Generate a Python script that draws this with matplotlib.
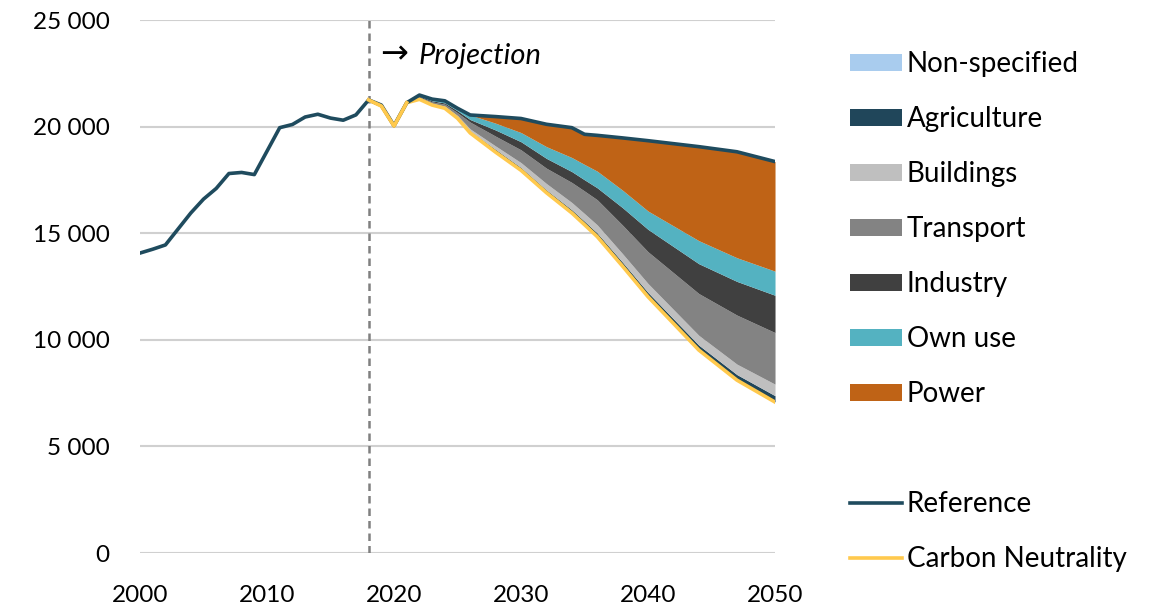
import numpy as np
import matplotlib
matplotlib.use('Agg')
import matplotlib.pyplot as plt
from matplotlib.patches import Patch
from matplotlib.lines import Line2D
from matplotlib.ticker import FuncFormatter

plt.rcParams['font.family'] = ['Lato', 'DejaVu Sans']

# historic emissions (reference line before the projection)
hist_years = [2000, 2001, 2002, 2003, 2004, 2005, 2006, 2007, 2008, 2009,
              2010, 2011, 2012, 2013, 2014, 2015, 2016, 2017]
hist_ref = [14070, 14250, 14450, 15200, 15950, 16600, 17100, 17800, 17850, 17750,
            18850, 19950, 20100, 20450, 20580, 20400, 20300, 20550]

# projection
proj_years = [2018, 2019, 2020, 2021, 2022, 2023, 2024, 2025, 2026,
              2028, 2030, 2032, 2034, 2035, 2036, 2038, 2040, 2044, 2047, 2050]
reference = [21250, 21010, 20045, 21120, 21480, 21290, 21210, 20860, 20545,
             20470, 20380, 20110, 19950, 19640, 19590, 19470, 19340, 19060, 18820, 18360]
carbon_neutrality = [21250, 20970, 20030, 21120, 21280, 21010, 20860, 20390, 19700,
                     18800, 17950, 16900, 15950, 15400, 14840, 13450, 12020, 9520, 8110, 7080]

# reductions by sector (stacked on top of the carbon neutrality line)
non_specified = [0, 0, 0, 0, 0, 0, 0, 0, 0,
                 10, 10, 10, 10, 10, 10, 10, 10, 10, 10, 10]
agriculture = [0, 10, 5, 0, 40, 50, 60, 70, 80,
               120, 120, 120, 140, 150, 160, 175, 190, 220, 250, 290]
buildings = [0, 5, 0, 0, 20, 30, 40, 60, 110,
             160, 230, 300, 340, 360, 380, 400, 420, 460, 490, 540]
transport = [0, 10, 5, 0, 50, 70, 90, 130, 320,
             460, 600, 720, 940, 1060, 1180, 1340, 1490, 1960, 2300, 2420]
industry = [0, 5, 0, 0, 40, 50, 60, 90, 120,
            290, 380, 460, 510, 525, 560, 820, 1050, 1400, 1580, 1750]
own_use = [0, 10, 5, 0, 50, 80, 100, 120, 215,
           320, 430, 550, 660, 720, 780, 820, 860, 1080, 1110, 1130]
power = [0, 0, 0, 0, 0, 0, 0, 0, 0,
         310, 660, 1050, 1400, 1415, 1680, 2455, 3300, 4410, 4970, 5140]

sector_names = ['Non-specified', 'Agriculture', 'Buildings', 'Transport',
                'Industry', 'Own use', 'Power']
sector_colors = ['#A9CCEE', '#20465A', '#BFBFBF', '#838383',
                 '#404040', '#54B2C1', '#BF6316']
sectors = [non_specified, agriculture, buildings, transport, industry, own_use, power]

ref_color = '#1F4B5E'
cn_color = '#FFC94D'

fig = plt.figure(figsize=(11.63, 6.10), dpi=100)
ax = fig.add_axes([0.1204, 0.0934, 0.546, 0.8738])

x = np.array(proj_years)
lower = np.array(carbon_neutrality, dtype=float)
for vals, col in zip(sectors, sector_colors):
    upper = lower + np.array(vals)
    ax.fill_between(x, lower, upper, color=col, linewidth=0, zorder=2)
    lower = upper

ax.plot(hist_years + proj_years, hist_ref + reference, color=ref_color, lw=2.6,
        zorder=4, solid_joinstyle='round')
ax.plot(proj_years, carbon_neutrality, color=cn_color, lw=2.6, zorder=3,
        solid_joinstyle='round')
ax.plot(proj_years[:4], carbon_neutrality[:4], color=cn_color, lw=2.6, zorder=5)

ax.axvline(2018, color='#808080', lw=1.8, ls=(0, (3, 2)), zorder=1)
ax.text(2018.9, 23400, '\u2192', fontsize=24, va='center', ha='left',
        family='DejaVu Sans')
ax.text(2021.9, 23300, 'Projection', fontsize=21, style='italic', va='center', ha='left')

ax.set_xlim(2000, 2050)
ax.set_ylim(0, 25000)
ax.set_xticks(range(2000, 2051, 10))
ax.set_yticks(range(0, 25001, 5000))
ax.yaxis.set_major_formatter(FuncFormatter(lambda v, p: f'{int(v):,}'.replace(',', ' ')))
ax.grid(axis='y', color='#D0D0D0', lw=1.5, zorder=0)
ax.set_axisbelow(True)
for s in ax.spines.values():
    s.set_visible(False)
ax.tick_params(axis='both', length=0, labelsize=17.5)
ax.tick_params(axis='y', pad=22)
ax.tick_params(axis='x', pad=23)

handles = [Patch(facecolor=c, edgecolor='none') for c in sector_colors]
handles.append(Line2D([], [], color='none'))
handles.append(Line2D([], [], color=ref_color, lw=2.6))
handles.append(Line2D([], [], color=cn_color, lw=2.6))
labels = sector_names + [' ', 'Reference', 'Carbon Neutrality']
fig.legend(handles, labels, loc='upper left', bbox_to_anchor=(0.709, 0.957),
           frameon=False, fontsize=20, handlelength=1.9, handleheight=0.6,
           handletextpad=0.15, labelspacing=1.045)

fig.savefig('out.png', dpi=100)
